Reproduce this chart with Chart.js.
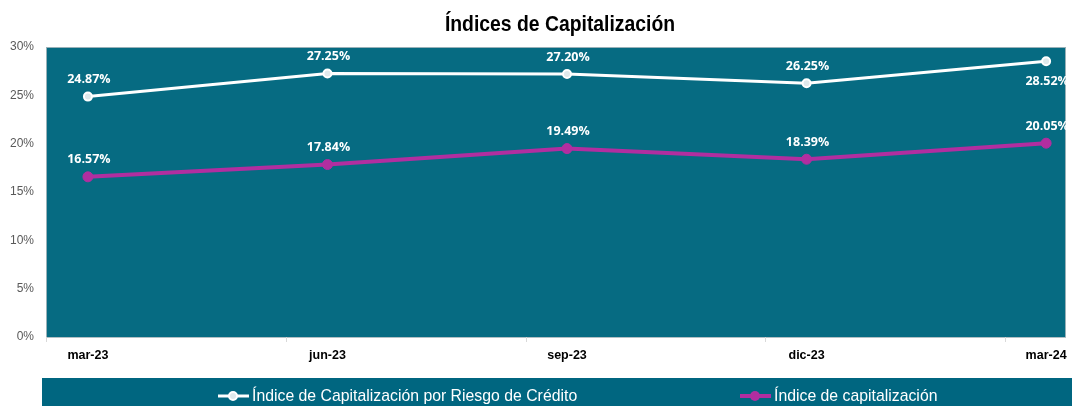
<!DOCTYPE html>
<html><head><meta charset="utf-8">
<script src="https://cdn.jsdelivr.net/npm/chart.js@4.4.1/dist/chart.umd.min.js"></script>
<style>html,body{margin:0;padding:0;background:#fff}#wrap{width:1072px;height:406px}</style>
</head><body><div id="wrap"><canvas id="c" width="1072" height="406"></canvas></div>
<script>
const categories = ['mar-23','jun-23','sep-23','dic-23','mar-24'];
const riesgoCredito = [24.87, 27.25, 27.20, 26.25, 28.52];
const capitalizacion = [16.57, 17.84, 19.49, 18.39, 20.05];
const yTicks = [0,5,10,15,20,25,30];
const seriesNames = ['Índice de Capitalización por Riesgo de Crédito','Índice de capitalización'];
const titleText = 'Índices de Capitalización';

const TEAL = 'rgb(6,107,130)';
const MAG = 'rgb(177,46,160)';
const SANS = '"Liberation Sans", Arial, sans-serif';

function narrowText(ctx, text, x, y, sx){
  ctx.save();
  ctx.translate(x, y);
  ctx.scale(sx, 1);
  ctx.fillText(text, 0, 0);
  ctx.restore();
}

const deco = {
  id:'deco',
  beforeDraw(chart){
    const {ctx, chartArea:a} = chart;
    ctx.save();
    ctx.fillStyle = TEAL;
    ctx.fillRect(a.left, a.top, a.right-a.left, a.bottom-a.top);
    ctx.strokeStyle = 'rgba(170,185,190,0.9)';
    ctx.lineWidth = 1;
    ctx.strokeRect(a.left+0.5, a.top+0.5, a.right-a.left-1, a.bottom-a.top);
    // legend band
    ctx.fillStyle = 'rgb(0,102,128)';
    ctx.fillRect(42, 378, 1072-42, 28);
    ctx.restore();
  },
  afterDraw(chart){
    const {ctx} = chart;
    ctx.save();
    // title
    ctx.fillStyle = '#000';
    ctx.font = 'bold 22px ' + SANS;
    ctx.textAlign = 'center'; ctx.textBaseline = 'middle';
    narrowText(ctx, titleText, 560, 25, 0.88);
    // data labels
    ctx.font = 'bold 12.5px "Open Sans", sans-serif';
    ctx.fillStyle = '#fff';
    chart.data.datasets.forEach((ds, di) => {
      const meta = chart.getDatasetMeta(di);
      meta.data.forEach((pt, i) => {
        const below = (di === 0 && i === ds.data.length-1);
        const v = ds.data[i].y;
        ctx.fillText(v.toFixed(2) + '%', pt.x + 1, pt.y + (below ? 20 : -17));
      });
    });
    // legend
    const items = [{x:218}, {x:740}];
    ctx.font = '17px ' + SANS;
    ctx.textAlign = 'left';
    chart.data.datasets.forEach((ds, di) => {
      const x = items[di].x, y = 396;
      ctx.strokeStyle = ds.borderColor; ctx.lineWidth = di===0?3:4;
      ctx.beginPath(); ctx.moveTo(x, y); ctx.lineTo(x+31, y); ctx.stroke();
      ctx.beginPath(); ctx.arc(x+15, y, di===0?4:5, 0, Math.PI*2);
      ctx.fillStyle = ds.pointBackgroundColor; ctx.fill();
      if (di===0){ ctx.lineWidth=2; ctx.strokeStyle='#fff'; ctx.stroke(); }
      ctx.fillStyle = '#fff';
      narrowText(ctx, ds.label, x+34, y, 0.93);
    });
    ctx.restore();
  }
};

new Chart(document.getElementById('c'), {
  type:'line',
  data:{
    datasets:[
      {label:seriesNames[0], data:riesgoCredito.map((v,i)=>({x:i,y:v})), borderColor:'#fff', borderWidth:3,
       pointRadius:4, pointBackgroundColor:'#dfe9ec', pointBorderColor:'#fff', pointBorderWidth:2, tension:0},
      {label:seriesNames[1], data:capitalizacion.map((v,i)=>({x:i,y:v})), borderColor:MAG, borderWidth:4,
       pointRadius:5, pointBackgroundColor:MAG, pointBorderColor:MAG, pointBorderWidth:1, tension:0}
    ]
  },
  options:{
    responsive:false, animation:false,
    layout:{padding:{left:0,right:4,top:47,bottom:39}},
    plugins:{legend:{display:false}, title:{display:false}, tooltip:{enabled:false}},
    scales:{
      x:{type:'linear', min:-0.175, max:4.083,
         afterBuildTicks(s){
           const t = [];
           categories.forEach((c,i)=>{ t.push({value:i}); });
           [-0.175,0.828,1.83,2.83,3.83].forEach(v=>t.push({value:v}));
           t.sort((a,b)=>a.value-b.value);
           s.ticks = t;
         },
         afterFit(s){ s.height = 30; s.paddingLeft = 0; s.paddingRight = 0; },
         ticks:{autoSkip:false, maxRotation:0, color:'#000', font:{family:SANS, size:12.5, weight:'bold'}, padding:6,
           callback(v){ return Number.isInteger(v) ? categories[v] : ''; }},
         grid:{drawOnChartArea:false, drawTicks:true, tickLength:5,
           color(ctx){ return ctx.tick && Number.isInteger(ctx.tick.value) ? 'rgba(0,0,0,0)' : '#d9d9d9'; }},
         border:{display:false}
      },
      y:{min:0, max:30,
         afterBuildTicks(s){ s.ticks = yTicks.map(v=>({value:v})); },
         afterFit(s){ s.width = 46; s.paddingTop = 0; s.paddingBottom = 0; },
         ticks:{color:'#595959', font:{family:SANS, size:12}, padding:12,
           callback(v){ return v + '%'; }},
         grid:{display:false, drawTicks:false}, border:{display:false}
      }
    }
  },
  plugins:[deco]
});
</script></body></html>
